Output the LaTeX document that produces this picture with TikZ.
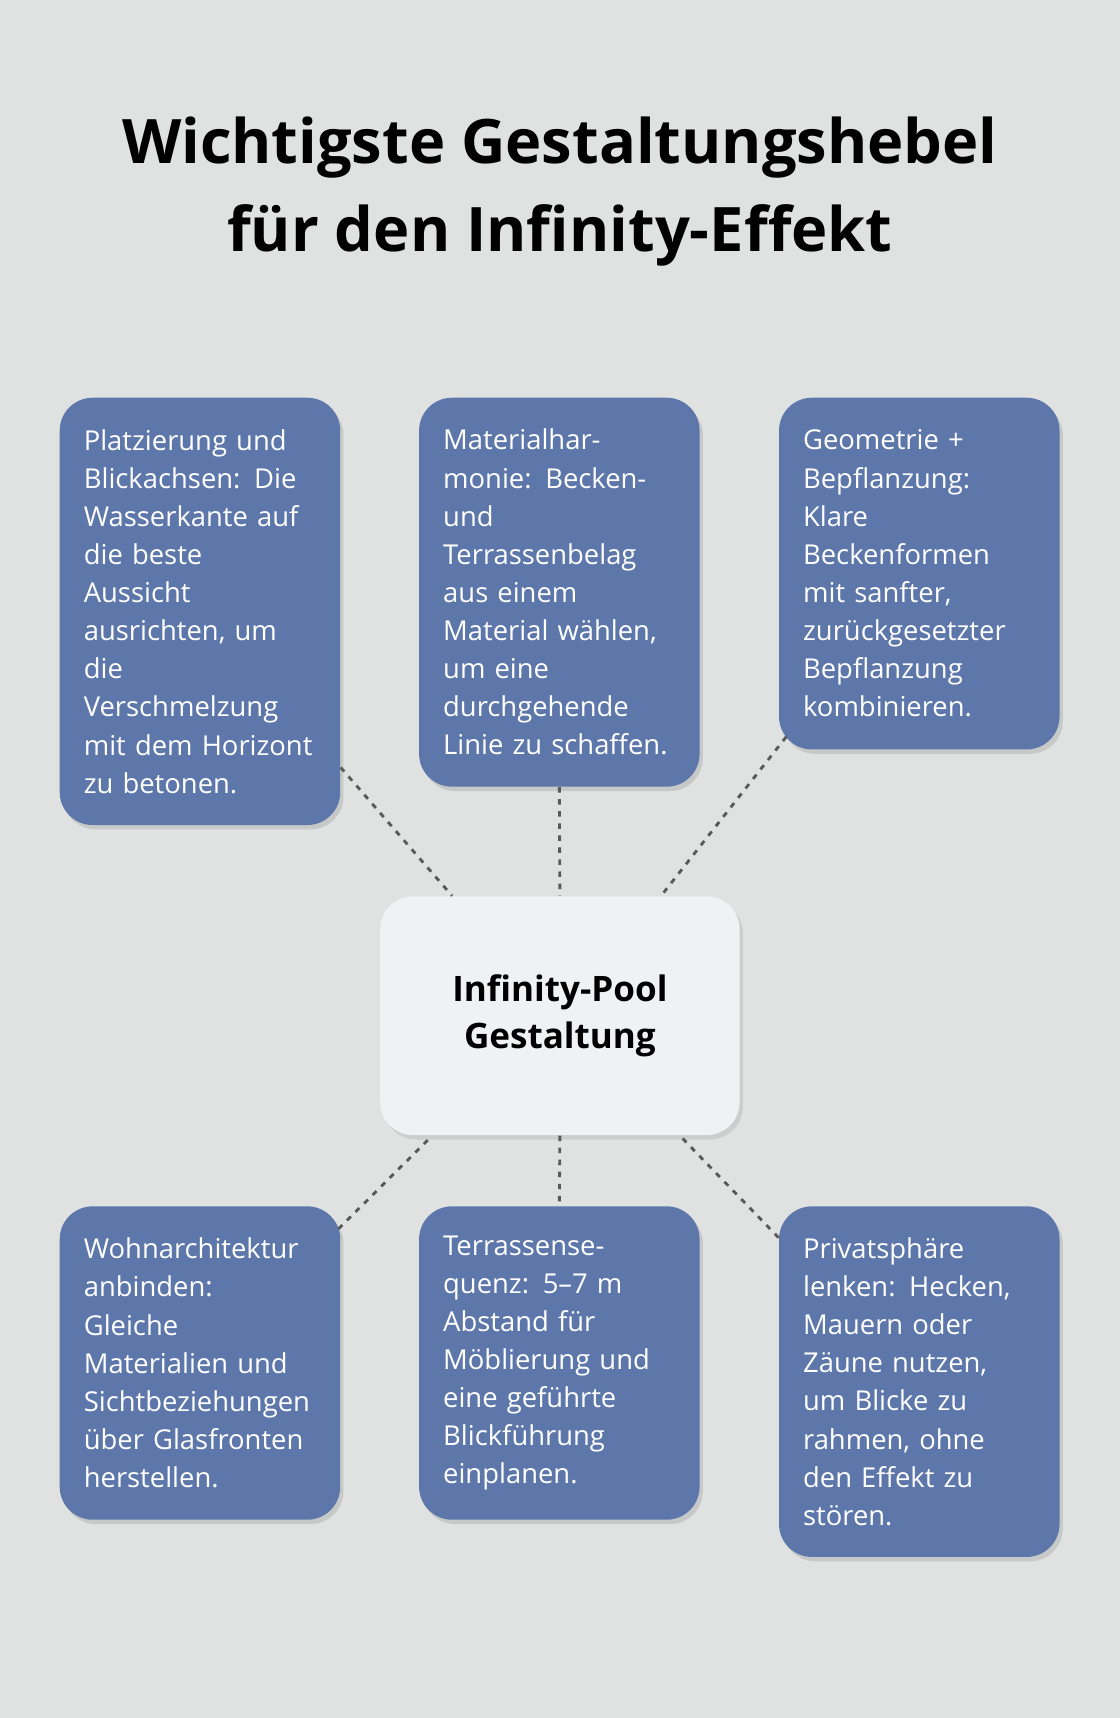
\documentclass[tikz,border=0pt]{standalone}
\usepackage{fontspec}
\setmainfont{Open Sans}
\usetikzlibrary{positioning, shadows, calc}
\definecolor{bgcol}{HTML}{E0E2E1}
\definecolor{boxcol}{HTML}{5E77AA}
\definecolor{midcol}{HTML}{F0F1F2}
\tikzset{
  lever/.style={draw=none, fill=boxcol, rounded corners=15pt, text=white,
    text width=106pt, inner sep=11pt, align=left, minimum width=127.5pt,
    font=\fontsize{12.5}{17.4}\selectfont,
    drop shadow={shadow xshift=1.5pt, shadow yshift=-2pt, opacity=0.25}},
  hub/.style={draw=none, fill=midcol, rounded corners=15pt, align=center,
    minimum width=164pt, minimum height=109pt,
    font=\fontsize{16}{21.5}\selectfont\bfseries,
    drop shadow={shadow xshift=1.5pt, shadow yshift=-2pt, opacity=0.2}},
  link/.style={draw=black!65, line width=1.3pt, dash pattern=on 2.5pt off 3pt}
}
\begin{document}
\begin{tikzpicture}[x=0.5pt, y=-0.5pt]
  %Background
  \fill[bgcol] (0,0) rectangle (1022,1568);
  \useasboundingbox (0,0) rectangle (1022,1568);

  %Title
  \node (title) at (511,175) [align=center, font=\fontsize{28}{40}\selectfont\bfseries]
    {Wichtigste Gestaltungshebel\\für den Infinity-Effekt};

  %Center
  \node (hub) at (511,927) [hub] {Infinity-Pool\\Gestaltung};

  %Upper boxes
  \node (place) at (182.5,558) [lever, minimum height=195pt]
    {Platzierung und\\Blickachsen: Die\\Wasserkante auf\\die beste\\Aussicht\\ausrichten, um\\die\\Verschmelzung\\mit dem Horizont\\zu betonen.};
  \node (material) at (510.5,540.5) [lever, minimum height=177.5pt]
    {Materialhar-\\monie: Becken-\\und\\Terrassenbelag\\aus einem\\Material wählen,\\um eine\\durchgehende\\Linie zu schaffen.};
  \node (geometry) at (839,523.5) [lever, minimum height=160.5pt]
    {Geometrie +\\Bepflanzung:\\Klare\\Beckenformen\\mit sanfter,\\zurückgesetzter\\Bepflanzung\\kombinieren.};

  %Lower boxes
  \node (house) at (182.5,1244) [lever, minimum height=143pt]
    {Wohnarchitektur\\anbinden:\\Gleiche\\Materialien und\\Sichtbeziehungen\\über Glasfronten\\herstellen.};
  \node (terrace) at (510.5,1244) [lever, minimum height=143pt]
    {Terrassense-\\quenz: 5–7 m\\Abstand für\\Möblierung und\\eine geführte\\Blickführung\\einplanen.};
  \node (privacy) at (839,1261) [lever, minimum height=160pt]
    {Privatsphäre\\lenken: Hecken,\\Mauern oder\\Zäune nutzen,\\um Blicke zu\\rahmen, ohne\\den Effekt zu\\stören.};

  %Links
  \draw[link] ([yshift=26.5pt]place.south east) -- ([xshift=33pt]hub.north west);
  \draw[link] (material.south) -- (hub.north);
  \draw[link] ([xshift=3.5pt, yshift=6pt]geometry.south west) -- ([xshift=-36pt]hub.north east);
  \draw[link] ([xshift=-1pt, yshift=-10.5pt]house.north east) -- ([xshift=24pt]hub.south west);
  \draw[link] (hub.south) -- (terrace.north);
  \draw[link] ([yshift=-14.5pt]privacy.north west) -- ([xshift=-27.5pt]hub.south east);
\end{tikzpicture}
\end{document}
